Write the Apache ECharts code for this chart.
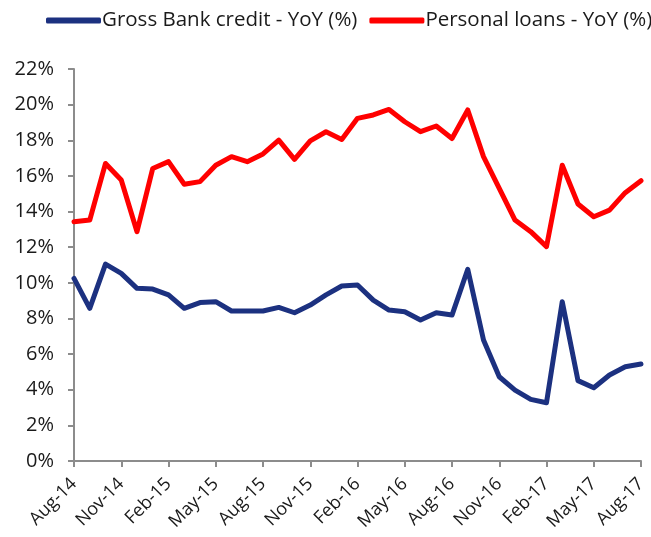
<!DOCTYPE html>
<html>
<head>
<meta charset="utf-8">
<script src="https://cdn.jsdelivr.net/npm/echarts@6/dist/echarts.min.js"></script>
<style>
  html, body { margin: 0; padding: 0; background: #fff; }
  #chart { width: 651px; height: 537px; }
</style>
</head>
<body>
<div id="chart"></div>
<script>
// Monthly observations, Aug-14 to Aug-17
const months = [
  'Aug-14','Sep-14','Oct-14','Nov-14','Dec-14','Jan-15','Feb-15','Mar-15','Apr-15','May-15','Jun-15','Jul-15',
  'Aug-15','Sep-15','Oct-15','Nov-15','Dec-15','Jan-16','Feb-16','Mar-16','Apr-16','May-16','Jun-16','Jul-16',
  'Aug-16','Sep-16','Oct-16','Nov-16','Dec-16','Jan-17','Feb-17','Mar-17','Apr-17','May-17','Jun-17','Jul-17',
  'Aug-17'
];

// Gross bank credit, year-on-year growth (%)
const grossBankCredit = [
  10.25, 8.57, 11.05, 10.53, 9.69, 9.65, 9.32, 8.57, 8.89, 8.94, 8.42, 8.42,
  8.42, 8.62, 8.32, 8.75, 9.32, 9.82, 9.88, 9.03, 8.47, 8.38, 7.91, 8.32,
  8.19, 10.76, 6.79, 4.73, 3.98, 3.46, 3.27, 8.94, 4.51, 4.11, 4.83, 5.29,
  5.44
];

// Personal loans, year-on-year growth (%)
const personalLoans = [
  13.43, 13.52, 16.70, 15.77, 12.87, 16.42, 16.80, 15.53, 15.68, 16.60, 17.08, 16.80,
  17.23, 18.01, 16.93, 17.97, 18.48, 18.05, 19.23, 19.42, 19.73, 19.04, 18.48, 18.80,
  18.10, 19.70, 17.08, 15.30, 13.52, 12.87, 12.03, 16.60, 14.42, 13.71, 14.08, 15.06,
  15.73
];

// Y axis range and step (%)
const yMin = 0, yMax = 22, yStep = 2;

const seriesNames = ['Gross Bank credit - YoY (%)', 'Personal loans - YoY (%)'];
const navy = '#1c3180';
const red = '#ff0000';
const fontFamily = '"Open Sans", "Noto Sans", sans-serif';
const axisGray = '#8c8c8c';
const textColor = '#1a1a1a';

const chart = echarts.init(document.getElementById('chart'), null, { renderer: 'canvas' });
chart.setOption({
  animation: false,
  textStyle: { fontFamily: fontFamily },
  legend: {
    top: 5,
    left: 41,
    width: 630,
    orient: 'horizontal',
    itemWidth: 55,
    itemHeight: 6,
    itemGap: 12,
    icon: 'roundRect',
    textStyle: { fontSize: 20.5, color: textColor, fontFamily: fontFamily, padding: [0, 0, 0, -4] },
    data: seriesNames
  },
  grid: { left: 74, right: 10, top: 69, bottom: 76, containLabel: false },
  xAxis: {
    type: 'category',
    data: months,
    boundaryGap: false,
    axisLine: { lineStyle: { color: axisGray, width: 2 } },
    axisTick: { show: true, interval: 2, length: 6, lineStyle: { color: axisGray, width: 2 } },
    axisLabel: {
      interval: 2,
      rotate: 45,
      fontSize: 18,
      color: textColor,
      margin: 20,
      fontFamily: fontFamily
    },
    splitLine: { show: false }
  },
  yAxis: {
    type: 'value',
    min: yMin,
    max: yMax,
    interval: yStep,
    axisLine: { show: true, lineStyle: { color: axisGray, width: 2 } },
    axisTick: { show: true, length: 6, lineStyle: { color: axisGray, width: 2 } },
    axisLabel: { formatter: '{value}%', fontSize: 20, color: textColor, margin: 20, fontFamily: fontFamily },
    splitLine: { show: false }
  },
  series: [
    {
      name: seriesNames[0],
      type: 'line',
      data: grossBankCredit,
      showSymbol: false,
      symbol: 'none',
      lineStyle: { color: navy, width: 5, join: 'round', cap: 'round' },
      itemStyle: { color: navy }
    },
    {
      name: seriesNames[1],
      type: 'line',
      data: personalLoans,
      showSymbol: false,
      symbol: 'none',
      lineStyle: { color: red, width: 5, join: 'round', cap: 'round' },
      itemStyle: { color: red }
    }
  ]
});
</script>
</body>
</html>
